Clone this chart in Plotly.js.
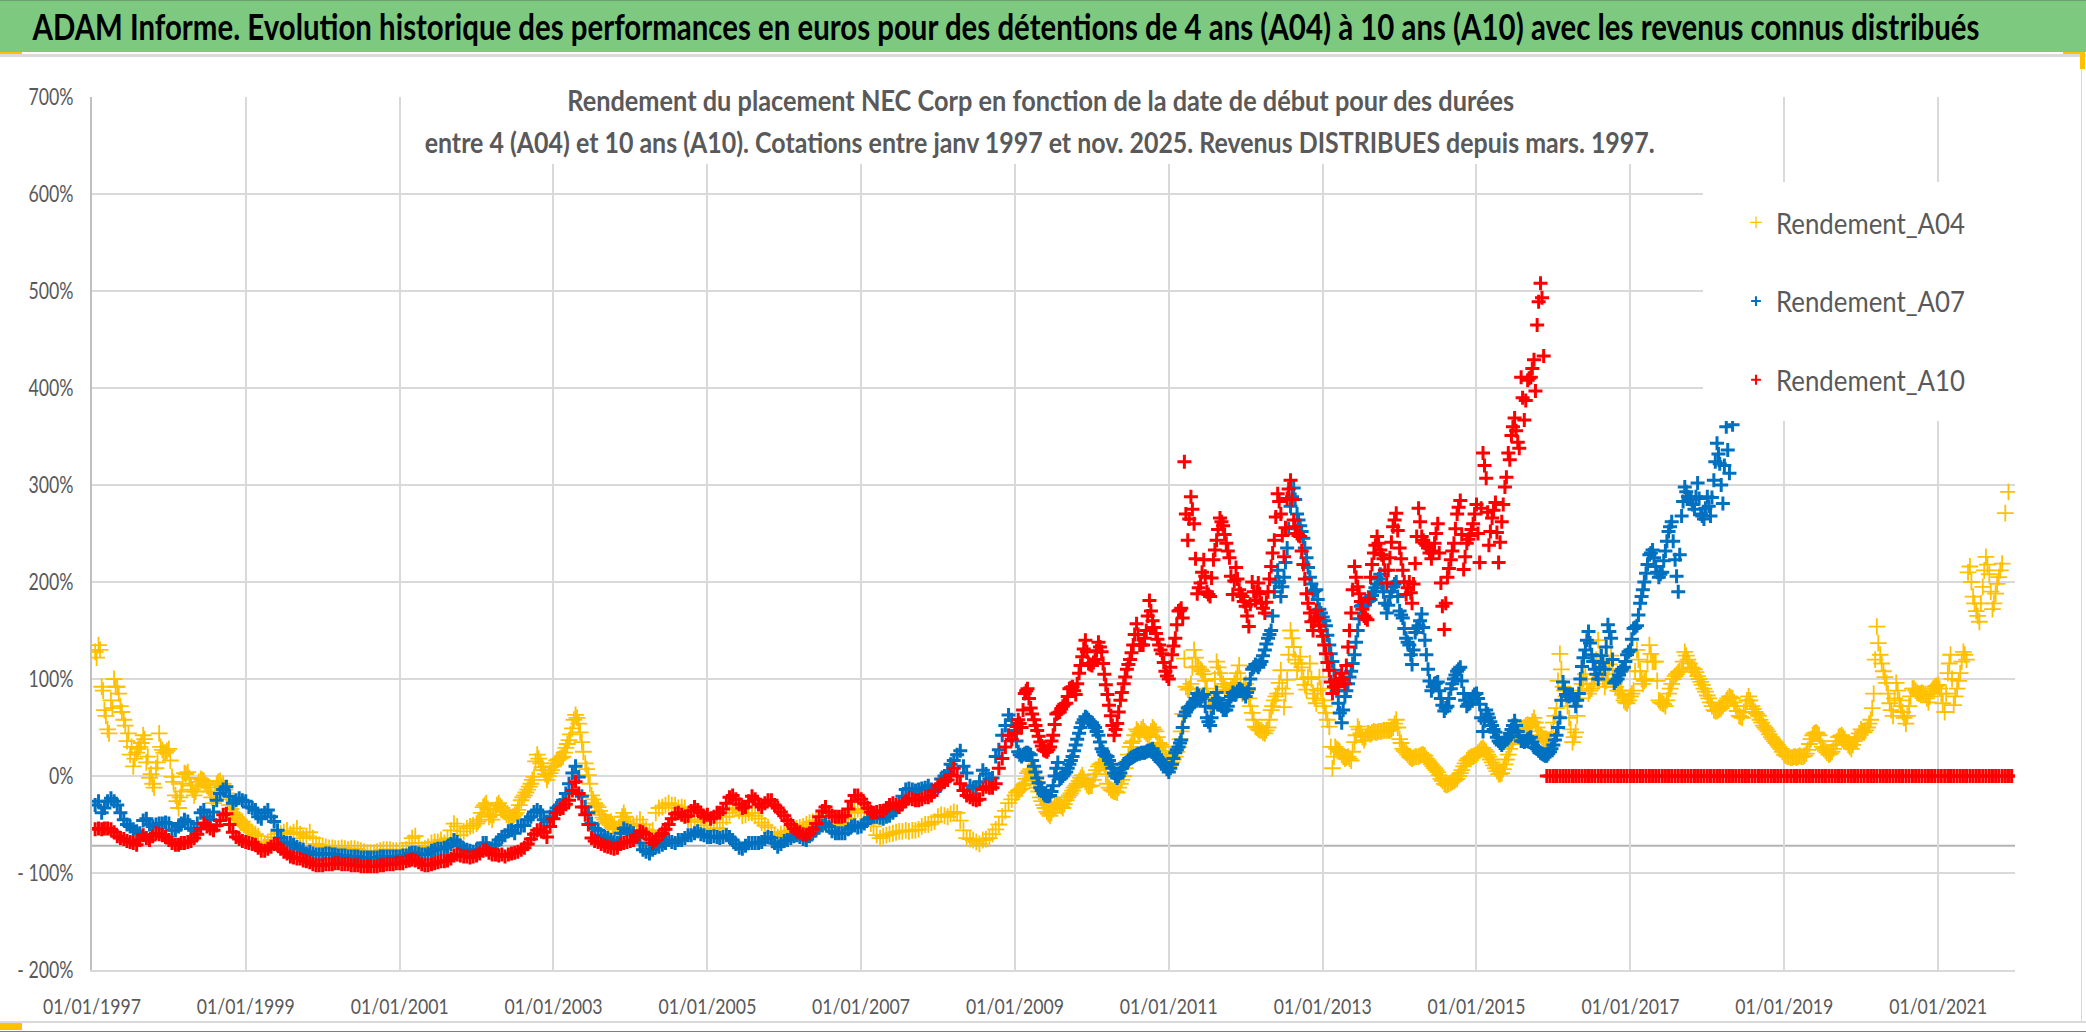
<!DOCTYPE html>
<html><head><meta charset="utf-8">
<script src="https://cdn.plot.ly/plotly-3.0.1.min.js"></script>
<style>html,body{margin:0;padding:0;background:#fff}#c{width:2086px;height:1032px}</style>
</head><body><div id="c"></div>
<script>
const mainTitle = "ADAM Informe. Evolution historique des performances en euros pour des détentions de 4 ans (A04) à 10 ans (A10) avec les revenus connus distribués";
const subLine1 = "Rendement du placement NEC Corp en fonction de la date de début pour des durées";
const subLine2 = "entre 4 (A04) et 10 ans (A10). Cotations entre janv 1997 et nov. 2025. Revenus DISTRIBUES depuis mars. 1997.";
const seriesNames = ["Rendement_A04","Rendement_A07","Rendement_A10"];
const seriesColors = ["#FFC000","#0070C0","#FF0000"];
const yTickVals = [700,600,500,400,300,200,100,0,-100,-200];
const yTickText = ["700%","600%","500%","400%","300%","200%","100%","0%","- 100%","- 200%"];
const axisCrossing = -72;

// Semi-monthly readings, first value = mid-January 1997; one row per year.
const a04 = [
128,135,92,68,48,78,100,92,72,58,36,22,10,24,30,42,14,-2,-8,8,44,27,24,28,
-1,-20,-33,-16,3,4,-10,-20,-10,-3,-5,-10,-16,-28,-8,-5,-8,-18,-30,-38,-43,-45,-47,-52,
-56,-58,-60,-62,-68,-71,-68,-66,-63,-60,-59,-58,-56,-60,-58,-54,-60,-64,-62,-58,-64,-70,-71,
-72,-73,-74,-74,-75,-75,-74,-75,-76,-75,-75,-76,-77,-78,-79,-79,-79,-78,-77,-76,-76,-76,-77,-77,
-77,-78,-76,-69,-64,-62,-69,-76,-75,-73,-69,-68,-68,-66,-69,-64,-56,-49,-52,-61,-57,-54,-52,-51,
-49,-45,-32,-28,-42,-45,-35,-28,-33,-37,-42,-44,-40,-35,-25,-20,-14,-8,-1,22,13,6,-4,3,
10,16,18,20,29,37,49,63,54,35,13,1,-20,-28,-32,-40,-45,-49,-47,-52,-59,-47,-38,-47,
-52,-51,-49,-45,-50,-55,-58,-56,-38,-33,-32,-30,-28,-30,-30,-33,-32,-33,-45,-47,-47,-45,-47,-51,
-56,-56,-54,-54,-54,-48,-42,-38,-34,-33,-36,-41,-40,-38,-38,-41,-44,-48,-51,-53,-58,-62,-63,-60,
-59,-57,-56,-55,-54,-53,-52,-50,-48,-47,-46,-47,-48,-48,-49,-50,-52,-51,-50,-48,-44,-38,-36,-34,
-34,-38,-44,-49,-52,-61,-64,-62,-61,-60,-59,-58,-57,-57,-56,-57,-56,-56,-55,-52,-50,-50,-48,-47,
-42,-40,-41,-42,-39,-37,-38,-46,-56,-64,-65,-66,-68,-70,-66,-65,-64,-60,-55,-50,-42,-36,-28,-24,
-20,-15,-13,-8,3,7,-5,-12,-22,-30,-37,-41,-34,-28,-30,-33,-25,-20,-15,-10,-5,1,-6,-11,
-10,2,10,13,12,-8,-14,-16,-17,-8,0,15,30,36,48,44,50,44,40,50,46,34,30,22,
10,14,20,30,46,121,89,95,130,113,110,105,90,71,80,118,106,95,89,88,92,100,114,85,
95,80,65,51,48,47,44,50,68,78,85,109,71,99,150,133,109,123,100,89,116,85,75,102,
78,65,51,8,30,27,22,18,20,16,35,51,44,37,44,43,46,45,46,47,47,47,50,58,
38,28,24,20,18,20,20,22,21,16,12,8,4,-3,-8,-9,-7,-5,-3,3,10,16,19,20,
22,26,29,25,20,14,8,2,3,12,22,33,40,45,48,50,53,52,60,50,42,38,36,37,
55,70,126,92,82,60,35,45,80,95,105,85,90,100,140,110,92,105,124,95,88,88,78,75,
82,88,130,108,95,100,135,118,118,78,75,72,85,95,103,107,110,128,120,112,110,103,97,90,
83,76,68,67,69,72,78,82,80,72,62,60,72,82,72,66,62,55,50,46,40,36,32,28,
22,20,19,20,19,21,20,23,33,42,45,42,30,26,22,25,32,40,42,38,32,28,36,40,
48,45,50,58,85,154,125,108,96,75,62,96,78,66,54,72,90,88,85,86,84,76,88,92,
94,85,66,106,125,73,90,106,128,120,216,185,170,159,195,226,208,172,188,205,219,271,293
];
const a07 = [
-30,-26,-38,-33,-26,-23,-26,-30,-38,-45,-50,-52,-55,-57,-59,-46,-44,-50,-52,-50,-49,-49,-48,-49,
-56,-56,-52,-49,-45,-47,-54,-56,-49,-38,-35,-42,-45,-37,-25,-18,-14,-11,-21,-28,-25,-23,-25,-26,
-32,-33,-35,-42,-44,-38,-35,-42,-47,-56,-64,-68,-69,-69,-71,-73,-75,-76,-80,-78,-80,-81,-81,
-81,-80,-80,-81,-81,-82,-82,-82,-83,-83,-83,-83,-84,-84,-84,-84,-84,-84,-83,-83,-83,-83,-83,-83,
-83,-82,-82,-80,-79,-79,-80,-81,-81,-80,-77,-76,-75,-75,-74,-73,-70,-66,-68,-72,-75,-76,-77,-78,
-76,-76,-69,-69,-75,-75,-71,-66,-63,-61,-57,-56,-59,-52,-51,-51,-45,-42,-37,-35,-37,-45,-47,-42,
-37,-33,-30,-25,-18,-8,3,10,-1,-21,-32,-38,-49,-54,-56,-61,-63,-64,-66,-68,-69,-59,-54,-56,
-57,-59,-63,-69,-76,-78,-80,-76,-73,-73,-71,-69,-66,-68,-69,-66,-66,-64,-61,-61,-59,-57,-60,-61,
-63,-63,-62,-63,-64,-63,-61,-63,-66,-70,-74,-75,-72,-69,-69,-69,-69,-68,-65,-63,-64,-69,-73,-70,
-67,-66,-64,-62,-61,-63,-65,-66,-62,-59,-56,-53,-51,-49,-52,-57,-59,-59,-59,-59,-55,-52,-51,-53,
-52,-49,-45,-43,-42,-42,-43,-44,-42,-41,-38,-35,-28,-21,-14,-13,-14,-15,-14,-13,-12,-10,-14,-16,
-12,-3,0,4,12,16,22,26,10,3,-10,-13,-12,-6,6,2,-3,-2,20,27,42,52,63,58,
47,25,20,23,24,22,10,-2,-12,-18,-21,-20,-10,8,-3,0,4,12,20,32,44,55,61,58,
55,50,42,28,22,20,12,3,-2,3,12,14,18,20,22,23,24,25,26,28,22,17,14,10,
4,12,24,30,37,62,70,72,76,85,80,84,60,52,70,86,75,68,68,78,86,84,90,88,
82,90,110,115,112,118,130,142,150,190,212,185,205,235,278,297,270,258,245,225,205,190,192,172,
164,155,135,118,100,75,55,82,95,108,125,150,175,178,180,182,190,198,208,190,168,185,195,200,
170,163,142,135,115,148,155,167,140,110,88,95,97,80,67,72,90,100,108,112,85,72,75,82,
85,74,46,68,60,52,45,36,32,36,40,48,57,46,36,35,38,40,30,28,24,22,21,25,
32,42,60,97,84,82,84,72,85,113,130,149,125,110,100,124,110,156,142,96,100,108,112,125,
130,152,155,178,192,209,228,233,216,205,210,232,252,262,223,190,268,298,288,285,275,302,270,265,
288,268,305,343,322,281,360,312,362
];
const a10 = [
-55,-54,-55,-54,-54,-55,-58,-62,-64,-65,-67,-68,-69,-71,-66,-61,-64,-66,-62,-59,-60,-61,-63,-66,
-69,-71,-71,-69,-69,-68,-67,-64,-60,-54,-49,-52,-54,-56,-51,-46,-40,-39,-50,-58,-63,-65,-67,-68,
-69,-70,-71,-74,-77,-77,-75,-73,-70,-71,-75,-78,-80,-83,-84,-85,-85,-87,-88,-89,-91,-92,-92,
-92,-91,-91,-91,-90,-90,-91,-91,-91,-92,-92,-92,-93,-93,-93,-93,-93,-93,-92,-92,-91,-91,-91,-90,
-90,-90,-88,-87,-86,-87,-89,-91,-92,-92,-91,-90,-89,-88,-88,-87,-85,-82,-81,-82,-83,-83,-84,-83,
-82,-80,-77,-76,-79,-81,-81,-82,-81,-83,-81,-80,-79,-78,-76,-74,-70,-65,-60,-56,-55,-58,-63,-52,
-44,-38,-34,-33,-29,-25,-15,-6,-18,-32,-40,-50,-64,-67,-68,-70,-72,-73,-74,-75,-74,-70,-69,-68,
-67,-66,-62,-57,-58,-60,-65,-69,-66,-62,-59,-55,-50,-44,-39,-38,-40,-42,-41,-36,-32,-35,-38,-42,
-40,-44,-42,-38,-38,-34,-28,-22,-20,-24,-29,-33,-32,-26,-21,-24,-29,-32,-28,-25,-25,-30,-33,-37,
-41,-46,-50,-54,-57,-58,-60,-61,-59,-55,-49,-42,-36,-32,-37,-41,-42,-42,-42,-41,-34,-26,-20,-20,
-24,-28,-33,-37,-38,-37,-36,-36,-33,-30,-28,-30,-32,-29,-26,-23,-24,-25,-25,-24,-22,-22,-20,-15,
-10,-8,-6,-4,1,8,0,-8,-15,-20,-22,-24,-25,-24,-14,-11,-12,-12,-8,8,18,30,42,38,
44,58,50,85,90,70,58,47,35,27,25,30,42,64,66,72,75,90,92,84,106,123,140,116,
114,120,138,128,105,84,62,42,54,78,95,110,120,135,157,135,135,150,181,160,147,135,126,108,
100,125,142,170,173,324,243,288,260,188,199,223,190,185,223,243,266,258,240,225,187,215,192,185,
175,154,200,181,199,178,168,190,216,243,291,270,226,286,305,264,250,247,218,188,168,150,171,155,
144,126,109,85,99,92,106,95,133,168,216,195,180,165,161,205,230,247,233,224,199,225,257,271,
235,212,187,200,178,219,276,247,240,235,224,240,260,199,151,205,223,240,270,284,213,240,248,260,
280,220,333,307,238,266,282,220,262,298,333,351,369,344,411,367,408,411,429,465,508,433,0,0,
0,0,0,0,0,0,0,0,0,0,0,0,0,0,0,0,0,0,0,0,0,0,0,0,
0,0,0,0,0,0,0,0,0,0,0,0,0,0,0,0,0,0,0,0,0,0,0,0,
0,0,0,0,0,0,0,0,0,0,0,0,0,0,0,0,0,0,0,0,0,0,0,0,
0,0,0,0,0,0,0,0,0,0,0,0,0,0,0,0,0,0,0,0,0,0,0,0,
0,0,0,0,0,0,0,0,0,0,0,0,0,0,0,0,0,0,0,0,0,0,0,0,
0,0,0,0,0,0,0,0,0,0,0,0,0,0,0,0,0,0,0,0,0,0,0,0
];
// Second readings one week later, in the periods where the marks spread widely.
const a04Early = [
122,130,88,62,44,70,92,85,66,52,44,30,18,28,34,38,20,2,-12,14,30,24,26,16,
-6,-26,-22,-8,2,-2,-14,-16,-6,-4,-8,-12,-22,-18,-6,-10,-14,-24,-34,-40,-44,-48,-50,-54
];
const a04Mid = [
-47,-38,-30,-34,-40,-40,-30,-31,-36,-40,-43,-42,-38,-30,-22,-17,-11,-4,15,18,9,2,0,6,
13,17,19,24,33,43,58,60,45,25,7,-8,-24,-30,-36,-43,-47,-48,-50,-55,-53,-42,-42,-50
];
const a04Late = [
-17,-14,-10,-3,5,2,-8,-16,-26,-33,-39,-38,-31,-29,-31,-29,-22,-18,-12,-8,-2,-3,-9,-10,
-4,6,12,14,2,-12,-15,-16,-12,-4,8,22,34,42,46,48,46,42,46,48,40,32,26,16,
12,17,25,38,64,92,90,112,122,112,108,98,80,76,100,112,100,92,88,90,96,106,100,90,
88,72,58,50,47,45,47,58,72,82,96,90,85,125,142,120,116,112,94,102,100,80,88,90,
72,58,30,20,28,25,20,19,18,25,42,48,40,40,44,45,45,46,46,47,47,48,54,50,
34,26,22,19,19,20,21,22,18,14,10,6,1,-5,-9,-8,-6,-4,0,6,13,18,20,21,
24,28,27,22,17,11,5,2,7,17,28,37,43,47,49,52,52,56,55,46,40,37,36,45,
62,98,110,88,72,48,40,62,88,100,95,88,95,120,125,100,98,115,110,92,88,84,76,78,
85,108,120,100,98,118,126,118,98,76,74,78,90,100,105,108,118,124,116,111,107,100,94,87,
80,72,67,68,70,75,80,81,76,67,61,66,78,78,69,64,58,52,48,43,38,34,30,25,
21,20,19,20,20,20,21,27,38,44,44,36,28,24,23,28,36,41,40,35,30,32,38,44,
46,47,54,70,120,137,116,102,85,68,80,88,72,60,62,82,90,86,85,85,80,82,90,93,
90,75,85,116,100,82,98,118,125,210,200,178,165,178,212,218,190,178,198,212
];
const a07Late = [
36,22,22,24,23,16,4,-7,-15,-20,-21,-16,0,14,-2,2,8,16,26,38,50,58,60,56,
52,46,35,25,21,16,8,0,0,8,13,16,19,21,23,24,24,26,27,25,19,15,12,7,
8,18,27,34,50,66,71,74,80,83,82,72,56,60,78,80,72,68,72,82,85,87,89,85,
86,100,112,114,115,124,136,146,165,200,200,195,220,255,288,285,264,252,235,215,198,191,182,168,
160,145,126,109,88,65,68,88,102,116,138,162,176,179,181,186,194,203,199,178,176,190,198,185,
166,152,138,125,130,152,160,153,125,98,92,96,88,73,70,80,95,104,110,98,78,74,78,84,
80,60,57,64,56,48,40,34,34,38,44,52,52,41,36,36,39,35,29,26,23,21,23,28,
37,50,78,90,83,83,78,78,100,122,140,137,118,105,112,117,133,149,120,98,104,110,118,128,
141,153,166,185,200,218,230,225,210,208,222,242,257,242,206,228,283,293,286,280,288,286,268,276,
278,287,324,332,300,320,336
];
const a10Late = [
51,54,68,88,80,64,52,41,31,26,27,36,53,65,69,74,82,91,88,95,114,131,128,115,
117,129,133,116,94,73,52,48,66,86,102,115,127,146,146,135,142,165,170,153,141,130,117,103,
112,134,156,171,163,270,265,275,224,194,210,206,187,204,233,254,262,249,232,206,201,203,188,180,
165,177,190,190,188,173,179,203,230,267,283,248,256,296,285,257,248,232,203,178,159,160,163,150,
135,117,97,92,95,99,100,114,150,192,205,188,172,163,183,218,238,240,228,212,212,241,264,253,
224,200,194,189,198,247,262,243,238,230,232,250,230,175,178,214,232,255,277,249,226,244,254,270,
250,276,320,272,252,274,251,241,280,308,326,360,356,338,390,387,410,420,397,489,493
];

// k counts half-months from 1 January 1997; dayShift moves a reading later in its half-month.
function semiMonthlyDate(k, dayShift){
  const y = 1997 + Math.floor(k / 24);
  const m = Math.floor((k % 24) / 2) + 1;
  const d = ((k % 2) ? 16 : 1) + dayShift;
  return y + "-" + String(m).padStart(2,"0") + "-" + String(d).padStart(2,"0");
}
const FONT = 'Lato,"Open Sans",sans-serif';
const GREY = "#595959";

function merged(blocks){
  const x = [], y = [];
  blocks.forEach(b => b.vals.forEach((v,i) => {
    x.push(semiMonthlyDate(b.startK + i, b.shift)); y.push(v);
  }));
  return {x, y};
}
function trace(blocks, idx, size, width){
  const d = merged(blocks);
  return {
    type:"scatter", mode:"markers", name:seriesNames[idx], x:d.x, y:d.y,
    legendgroup: seriesNames[idx],
    marker:{symbol:"cross-thin", size:size, color:seriesColors[idx],
            line:{color:seriesColors[idx], width:width}},
    hoverinfo:"x+y"
  };
}
const K = y => (y - 1997) * 24;
const traces = [
  trace([{vals:a04,startK:1,shift:0},{vals:a04Early,startK:1,shift:7},{vals:a04Mid,startK:K(2002),shift:7},{vals:a04Late,startK:K(2009),shift:7}],0,12,1.8),
  trace([{vals:a07,startK:1,shift:0},{vals:a07Late,startK:K(2009),shift:7}],1,10,3),
  trace([{vals:a10,startK:1,shift:0},{vals:a10Late,startK:K(2009),shift:7}],2,10,3)
];

const PW = 2086, PH = 1032, L = 92, R = 2015, T = 97, B = 970;
const px = v => (v - L) / (R - L);
const py = v => (B - v) / (B - T);
function box(x0,y0,x1,y1,color){
  return {type:"rect", xref:"paper", yref:"paper", x0:px(x0), x1:px(x1), y0:py(y1), y1:py(y0),
          fillcolor:color, line:{width:0}, layer:"above"};
}
const shapes = [
  box(418,85,1661,164,"#FFFFFF"),
  box(1703,182,2016,421,"#FFFFFF"),
  {type:"line", xref:"paper", yref:"y", x0:0, x1:1, y0:axisCrossing, y1:axisCrossing,
   line:{color:"#B3B3B3", width:2}, layer:"below"},
  box(0,0,2086,52,"#7DC97F"),
  box(0,0,2086,1,"#6E9F70"),
  box(0,54,2086,57,"#DADADA"),
  box(0,52,22,54,"#FFC000"),
  box(2063,52,2085,54,"#FFC000"),
  box(2080,52,2085,69,"#FFC000"),
  box(2081,69,2082,1022,"#D9D9D9"),
  box(0,1021,2086,1023,"#DADADA"),
  box(0,1023,22,1030,"#FFC000"),
  box(0,1031,2086,1032,"#7F7F7F")
];
const layout = {
  width:PW, height:PH, showlegend:true,
  paper_bgcolor:"#FFFFFF", plot_bgcolor:"#FFFFFF",
  margin:{l:L, r:PW-R, t:T, b:PH-B, pad:0},
  font:{family:FONT, color:GREY},
  title:{text:mainTitle, font:{family:FONT, size:36, color:"#000000", weight:700},
         x:1006/2086, xanchor:"center", xref:"container", y:1-27/1032, yanchor:"middle", yref:"container", automargin:false},
  xaxis:{type:"date", range:["1997-01-01","2022-01-01"], tick0:"1997-01-01", dtick:"M24",
         tickformat:"%d/%m/%Y", tickfont:{family:FONT, size:22, color:GREY},
         showgrid:true, gridcolor:"#D9D9D9", gridwidth:2, showline:true, linecolor:"#D9D9D9", linewidth:2,
         ticks:"", zeroline:false, tickangle:0, ticklabelstandoff:16},
  yaxis:{range:[-200,700], tickmode:"array", tickvals:yTickVals, ticktext:yTickText,
         tickfont:{family:FONT, size:23, color:GREY},
         showgrid:true, gridcolor:"#D9D9D9", gridwidth:2, showline:true, linecolor:"#BFBFBF", linewidth:2,
         ticks:"", zeroline:false, ticklabelstandoff:12},
  legend:{x:px(1736), xanchor:"left", y:py(197), yanchor:"top", bgcolor:"rgba(255,255,255,0)",
          font:{family:FONT, size:29, color:GREY}, tracegroupgap:38, itemwidth:30, itemclick:false},
  annotations:[
    {xref:"paper", yref:"paper", x:px(1040), y:py(100), text:subLine1, showarrow:false, xanchor:"center", yanchor:"middle",
     font:{family:FONT, size:28, color:GREY, weight:700}},
    {xref:"paper", yref:"paper", x:px(1039), y:py(142), text:subLine2, showarrow:false, xanchor:"center", yanchor:"middle",
     font:{family:FONT, size:28, color:GREY, weight:700}}
  ],
  shapes:shapes
};
function squeeze(selector, factorFor){
  document.querySelectorAll(selector).forEach(el => {
    const w = el.getComputedTextLength();
    el.setAttribute("textLength", (w * factorFor(w)).toFixed(1));
    el.setAttribute("lengthAdjust", "spacingAndGlyphs");
  });
}
function natural(selector){ return document.querySelector(selector).getComputedTextLength(); }
Plotly.newPlot("c",traces,layout,{displayModeBar:false,staticPlot:true}).then(() => {
  const xf = 98 / natural(".xtick text");
  const yf = 45 / natural(".ytick text");
  const lf = 189 / natural(".legendtext");
  squeeze(".xtick text", () => xf);
  squeeze(".ytick text", () => yf);
  squeeze(".legendtext", () => lf);
  squeeze(".gtitle", w => 1947 / w);
  const ann = document.querySelectorAll(".annotation-text");
  const targets = [947, 1230];
  ann.forEach((el,i) => {
    el.setAttribute("textLength", targets[i]);
    el.setAttribute("lengthAdjust", "spacingAndGlyphs");
  });
  document.querySelectorAll(".legendpoints path").forEach(p => {
    const t = p.getAttribute("transform") || "";
    p.setAttribute("transform", t + " scale(0.7)");
  });
});
</script></body></html>
